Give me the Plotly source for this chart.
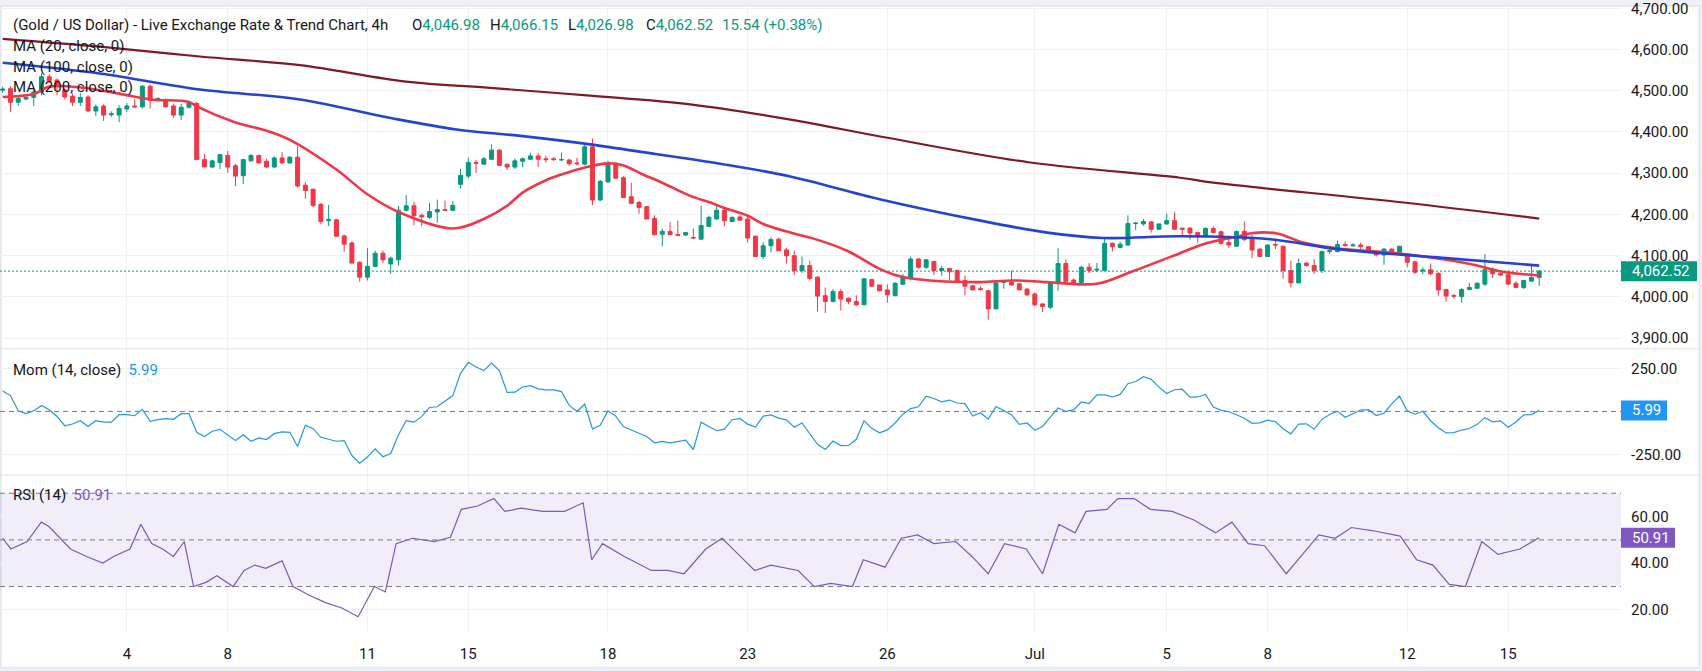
import plotly.graph_objects as go

# ---------------- data ----------------
open_ = [4501, 4505, 4472, 4480, 4484, 4497, 4534, 4526, 4502, 4487, 4472, 4485, 4451, 4463, 4442, 4441, 4456, 4463, 4461, 4511,
         4476, 4479, 4463, 4441, 4460, 4469, 4333, 4315, 4326, 4343, 4318, 4294, 4330, 4343, 4329, 4315, 4337, 4325, 4339, 4271,
         4261, 4224, 4185, 4187, 4148, 4131, 4084, 4048, 4074, 4106, 4080, 4090, 4210, 4221, 4198, 4193, 4206, 4212, 4210, 4273,
         4293, 4326, 4322, 4334, 4356, 4322, 4315, 4329, 4334, 4342, 4335, 4335, 4332, 4332, 4325, 4322, 4364, 4235, 4279, 4324,
         4289, 4243, 4229, 4219, 4190, 4152, 4159, 4151, 4150, 4144, 4140, 4171, 4189, 4210, 4183, 4194, 4189, 4147, 4098, 4124,
         4140, 4114, 4100, 4064, 4076, 4048, 4003, 3989, 4013, 3997, 3989, 3981, 4042, 4029, 4017, 4003, 4031, 4045, 4092, 4072,
         4086, 4064, 4069, 4064, 4040, 4027, 4020, 4015, 3971, 4035, 4035, 4032, 4019, 4007, 3983, 3975, 4034, 4081, 4041, 4035,
         4072, 4065, 4064, 4130, 4120, 4126, 4178, 4177, 4182, 4164, 4177, 4185, 4167, 4167, 4156, 4147, 4166, 4158, 4132, 4123,
         4159, 4140, 4116, 4098, 4127, 4123, 4064, 4034, 4082, 4076, 4064, 4110, 4110, 4127, 4124, 4126, 4122, 4110, 4102, 4116,
         4108, 4104, 4085, 4063, 4066, 4057, 4018, 4003, 4001, 4018, 4021, 4031, 4066, 4057, 4054, 4033, 4023, 4038, 4046.98]
high = [4510, 4511, 4485, 4486, 4503, 4542, 4540, 4530, 4506, 4493, 4494, 4489, 4467, 4467, 4450, 4465, 4470, 4480, 4514, 4515,
        4484, 4481, 4469, 4469, 4474, 4473, 4347, 4333, 4347, 4354, 4323, 4335, 4347, 4345, 4335, 4341, 4351, 4341, 4365, 4278,
        4263, 4228, 4223, 4189, 4151, 4134, 4086, 4119, 4112, 4112, 4098, 4221, 4247, 4231, 4202, 4228, 4236, 4234, 4233, 4311,
        4338, 4332, 4339, 4370, 4358, 4322, 4336, 4338, 4350, 4350, 4342, 4339, 4350, 4335, 4337, 4370, 4384, 4284, 4330, 4326,
        4293, 4277, 4233, 4221, 4198, 4165, 4181, 4185, 4158, 4166, 4221, 4197, 4221, 4214, 4195, 4198, 4198, 4149, 4133, 4145,
        4144, 4119, 4112, 4098, 4088, 4050, 4023, 4019, 4019, 3999, 4004, 4045, 4044, 4029, 4030, 4036, 4056, 4098, 4094, 4092,
        4088, 4075, 4069, 4066, 4052, 4029, 4026, 4017, 4037, 4041, 4064, 4034, 4021, 4011, 3985, 4037, 4118, 4091, 4045, 4076,
        4082, 4082, 4142, 4132, 4134, 4198, 4182, 4189, 4184, 4178, 4202, 4205, 4167, 4169, 4158, 4169, 4171, 4161, 4140, 4161,
        4183, 4150, 4118, 4127, 4136, 4123, 4088, 4093, 4084, 4092, 4112, 4120, 4137, 4135, 4130, 4132, 4122, 4112, 4118, 4118,
        4123, 4106, 4088, 4072, 4081, 4060, 4020, 4007, 4022, 4034, 4036, 4104, 4072, 4059, 4064, 4038, 4041, 4076, 4066.15]
low = [4495, 4449, 4463, 4477, 4463, 4489, 4518, 4489, 4479, 4463, 4463, 4449, 4439, 4427, 4437, 4424, 4449, 4460, 4457, 4457,
       4474, 4459, 4434, 4429, 4457, 4333, 4315, 4313, 4310, 4301, 4269, 4274, 4328, 4323, 4313, 4313, 4323, 4323, 4265, 4238,
       4218, 4176, 4172, 4147, 4110, 4082, 4037, 4040, 4072, 4082, 4056, 4076, 4207, 4174, 4171, 4189, 4180, 4210, 4208, 4263,
       4287, 4301, 4320, 4332, 4319, 4308, 4310, 4315, 4332, 4315, 4326, 4330, 4331, 4318, 4319, 4319, 4223, 4233, 4277, 4286,
       4241, 4225, 4202, 4189, 4149, 4123, 4155, 4147, 4148, 4140, 4139, 4171, 4188, 4171, 4181, 4186, 4132, 4098, 4092, 4108,
       4112, 4081, 4053, 4058, 4040, 3965, 3961, 3987, 3967, 3982, 3978, 3981, 4024, 4014, 3986, 4002, 4029, 4040, 4068, 4068,
       4053, 4052, 4040, 4034, 4004, 4017, 4015, 3945, 3971, 4020, 4027, 4017, 4003, 3977, 3963, 3971, 4015, 4036, 4034, 4034,
       4058, 4061, 4064, 4110, 4119, 4124, 4162, 4173, 4156, 4164, 4175, 4164, 4148, 4139, 4132, 4145, 4156, 4126, 4119, 4122,
       4136, 4094, 4096, 4098, 4116, 4044, 4023, 4034, 4074, 4056, 4058, 4104, 4108, 4122, 4122, 4116, 4106, 4098, 4078, 4104,
       4108, 4072, 4056, 4055, 4053, 4003, 3989, 3996, 3986, 4018, 4019, 4027, 4046, 4051, 4031, 4021, 4019, 4038, 4026.98]
close = [4504, 4472, 4481, 4484, 4497, 4534, 4524, 4514, 4485, 4472, 4484, 4451, 4461, 4441, 4444, 4457, 4463, 4461, 4511, 4477,
         4481, 4461, 4441, 4460, 4471, 4333, 4315, 4330, 4345, 4315, 4293, 4333, 4343, 4325, 4315, 4337, 4325, 4339, 4269, 4258,
         4222, 4183, 4188, 4147, 4128, 4082, 4048, 4074, 4106, 4090, 4094, 4210, 4221, 4197, 4194, 4207, 4212, 4210, 4222, 4295,
         4326, 4324, 4335, 4356, 4319, 4315, 4330, 4335, 4342, 4334, 4333, 4333, 4333, 4323, 4323, 4364, 4235, 4280, 4322, 4288,
         4241, 4227, 4217, 4189, 4151, 4159, 4151, 4149, 4156, 4143, 4173, 4193, 4210, 4185, 4193, 4186, 4143, 4098, 4124, 4139,
         4112, 4100, 4064, 4076, 4045, 4002, 3989, 4013, 3995, 3989, 3981, 4044, 4026, 4015, 4005, 4033, 4048, 4092, 4072, 4090,
         4064, 4069, 4061, 4038, 4026, 4017, 4018, 3971, 4034, 4038, 4029, 4017, 4005, 3981, 3977, 4036, 4081, 4038, 4035, 4072,
         4064, 4067, 4130, 4122, 4128, 4178, 4179, 4183, 4164, 4177, 4185, 4164, 4164, 4155, 4148, 4166, 4156, 4130, 4126, 4159,
         4139, 4114, 4098, 4126, 4126, 4064, 4034, 4081, 4076, 4064, 4110, 4112, 4127, 4125, 4126, 4122, 4108, 4102, 4116, 4108,
         4123, 4084, 4060, 4065, 4056, 4017, 4002, 4002, 4018, 4023, 4033, 4066, 4056, 4053, 4031, 4023, 4040, 4046.98, 4062.52]
bars = list(range(len(close)))

ma20_bar = [0, 4, 6, 10, 15, 19, 24, 25, 30, 34, 37, 43, 47, 51, 58, 62, 65, 67, 70, 72, 75, 78, 80, 82.5, 85, 88.6,
            91.2, 92.8, 95.9, 98, 101.5, 104.4, 108.8, 113, 115.6, 119.5, 125.9, 130.2, 134.6, 141, 145.3, 151.7, 154.7,
            159, 161.1, 164.2, 167.6, 171.9, 180.5, 189.1, 193.3, 198]
ma20_val = [4485, 4492, 4510, 4508, 4493, 4479, 4473, 4462, 4423, 4403, 4381, 4309, 4249, 4206, 4166, 4189, 4221, 4253,
            4283, 4297, 4314, 4324, 4319, 4297, 4277, 4245, 4229, 4217, 4198, 4177, 4156, 4142, 4112, 4068, 4050, 4040,
            4036, 4040, 4036, 4032, 4060, 4106, 4128, 4146, 4155, 4154, 4132, 4118, 4104, 4080, 4061, 4052]
ma100_bar = [0, 12.5, 25.4, 38.3, 50, 58.5, 67, 75.7, 84.3, 92.8, 101.5, 113, 126, 134.6, 141.8, 151.7, 163.3, 172,
             184.8, 198]
ma100_val = [4568, 4542, 4503, 4479, 4434, 4406, 4390, 4370, 4346, 4322, 4292, 4237, 4185, 4156, 4143, 4147, 4140, 4116,
             4096, 4076]
ma200_bar = [0, 12.5, 25.4, 38.3, 52, 62.8, 75.7, 88.6, 101.5, 114, 132.4, 151.7, 156, 180.5, 198]
ma200_val = [4626, 4607, 4583, 4562, 4522, 4507, 4488, 4467, 4430, 4386, 4326, 4289, 4277, 4229, 4190]

mom = [119, 92, 4, -12, 4, 35, 10, -29, -83, -73, -54, -87, -54, -62, -62, -19, -19, -25, 12, -58,
       -48, -42, -46, -13, -13, -121, -146, -115, -104, -135, -169, -135, -173, -154, -163, -129, -119, -121, -204, -81,
       -100, -150, -163, -173, -169, -256, -300, -265, -217, -263, -244, -135, -54, -62, -29, 23, 27, 58, 92, 221,
       285, 258, 237, 281, 237, 110, 112, 142, 150, 131, 125, 125, 115, 35, 0, 42, -102, -81, 3, -27,
       -89, -108, -125, -145, -182, -174, -183, -174, -167, -221, -62, -87, -112, -103, -48, -41, -74, -91, -27, -20,
       -39, -49, -92, -67, -128, -191, -221, -172, -198, -197, -162, -54, -98, -124, -107, -67, -16, 16, 27, 88,
       75, 56, 66, 49, 45, -27, -8, -44, 29, 5, -19, -75, -67, -109, -87, -33, 20, 0, 9, 55,
       46, 96, 96, 84, 99, 161, 174, 202, 187, 141, 104, 126, 129, 83, 84, 99, 26, 8, -2, -19,
       -40, -69, -66, -51, -59, -100, -130, -74, -72, -102, -46, -18, 1, -34, -13, 8, 10, -24, -10, 44,
       89, 3, -16, 1, -54, -95, -125, -123, -108, -99, -75, -36, -60, -55, -92, -61, -20, -18, 5.99]

rsi_bar = [0, 1.05, 3.15, 4.97, 5.95, 7.34, 8.74, 10.8, 12.9, 14.3, 16.4, 17.8, 19.2, 20.6, 22.0, 23.4, 24.6, 26.2,
           27.6, 29.7, 31.1, 32.5, 33.9, 36.0, 37.4, 39.5, 41.6, 43.7, 45.8, 47.9, 49.3, 50.7, 52.8, 55.6, 57.7, 59.1,
           61.2, 63.3, 64.7, 66.8, 69.6, 72.4, 74.8, 75.9, 77.3, 80.1, 83.6, 85.7, 87.8, 90.6, 92.7, 94.8, 96.9, 99.0,
           102.5, 104.6, 106.7, 109.5, 110.9, 113.7, 115.8, 117.9, 120.0, 122.8, 124.9, 127.0, 129.1, 131.9, 134.0,
           136.1, 138.2, 139.6, 142.3, 143.7, 145.8, 147.9, 150.7, 153.5, 156.3, 158.4, 160.5, 162.6, 165.4, 167.5,
           169.6, 171.7, 173.8, 176.6, 180.1, 182.2, 184.3, 186.4, 188.5, 190.6, 192.7, 195.5, 198]
rsi_val = [50.7, 46.1, 49.3, 57.6, 55.7, 50.7, 46.1, 42.9, 40.1, 42.9, 46.1, 56.7, 48.4, 46.1, 42.9, 49.3, 30.0, 31.8,
           34.6, 30.0, 36.9, 39.2, 37.8, 41.0, 30.0, 26.3, 23.1, 20.8, 17.1, 30.0, 27.7, 48.4, 50.7, 49.3, 51.1, 63.1,
           64.5, 67.7, 62.2, 63.6, 62.2, 62.2, 65.9, 41.5, 48.4, 42.9, 36.9, 36.9, 35.5, 46.1, 50.7, 43.8, 36.9, 39.2,
           36.9, 30.0, 31.4, 30.0, 41.5, 38.3, 50.7, 52.1, 48.4, 49.3, 42.9, 35.5, 48.4, 46.1, 35.5,
           56.7, 53.0, 62.2, 63.1, 67.7, 67.7, 63.1, 62.2, 58.5, 53.0, 57.6, 48.4, 47.5, 35.5, 43.8,
           52.1, 50.7, 55.3, 53.9, 51.6, 41.5, 39.2, 30.9, 30.0, 49.3, 43.8, 46.1, 50.91]

date_ticks = [16, 29, 47, 60, 78, 96, 114, 133, 150, 163, 181, 194]
date_labels = ["4", "8", "11", "15", "18", "23", "26", "Jul", "5", "8", "12", "15"]
price_ticks = [3900, 4000, 4100, 4200, 4300, 4400, 4500, 4600, 4700]
price_labels = ["3,900.00", "4,000.00", "4,100.00", "4,200.00", "4,300.00", "4,400.00", "4,500.00", "4,600.00", "4,700.00"]
mom_ticks = [-250, 250]
mom_labels = ["-250.00", "250.00"]
rsi_ticks = [20, 40, 60]
rsi_labels = ["20.00", "40.00", "60.00"]
rsi_levels = [70, 50, 30]

title_text = "(Gold / US Dollar) - Live Exchange Rate &amp; Trend Chart, 4h"
ohlc_parts = [("O", "4,046.98"), ("H", "4,066.15"), ("L", "4,026.98"), ("C", "4,062.52")]
change_text = "15.54 (+0.38%)"
ma_labels = ["MA (20, close, 0)", "MA (100, close, 0)", "MA (200, close, 0)"]

# ---------------- styling ----------------
W, H = 1702, 671
ML, MR, MT, MB = 0, 81, 0, 38
PW, PH = W - ML - MR, H - MT - MB
UP, DN = "#089981", "#f23645"
TXT = "#131722"
GRID = "#eff1f5"
SEP = "#e0e3eb"
FONT = "Roboto"


def fx(px):
    return (px - ML) / PW


def fy(py):
    return 1 - (py - MT) / PH


X_RANGE = [-0.348, 208.54]

fig = go.Figure()
fig.add_trace(go.Candlestick(
    x=bars, open=open_, high=high, low=low, close=close,
    increasing=dict(line=dict(color=UP, width=1), fillcolor=UP),
    decreasing=dict(line=dict(color=DN, width=1), fillcolor=DN),
    whiskerwidth=0, hoverinfo="skip", showlegend=False, xaxis="x", yaxis="y"))
fig.add_trace(go.Scatter(x=ma20_bar, y=ma20_val, mode="lines", line=dict(color="#f23645", width=2.6, shape="spline"),
                         hoverinfo="skip", showlegend=False, xaxis="x", yaxis="y"))
fig.add_trace(go.Scatter(x=ma100_bar, y=ma100_val, mode="lines", line=dict(color="#2443d6", width=2.6, shape="spline"),
                         hoverinfo="skip", showlegend=False, xaxis="x", yaxis="y"))
fig.add_trace(go.Scatter(x=ma200_bar, y=ma200_val, mode="lines", line=dict(color="#801922", width=2.2, shape="spline"),
                         hoverinfo="skip", showlegend=False, xaxis="x", yaxis="y"))
fig.add_trace(go.Scatter(x=bars, y=mom, mode="lines", line=dict(color="#2196f3", width=1.2),
                         hoverinfo="skip", showlegend=False, xaxis="x2", yaxis="y2"))
fig.add_trace(go.Scatter(x=rsi_bar, y=rsi_val, mode="lines", line=dict(color="#7e57c2", width=1.2),
                         hoverinfo="skip", showlegend=False, xaxis="x3", yaxis="y3"))

# pane boundaries (pixels)
P1 = (0, 347)
P2 = (347, 474)
P3 = (474, 633)

xcommon = dict(range=X_RANGE, tickvals=date_ticks, ticktext=date_labels, showgrid=True, gridcolor=GRID,
               gridwidth=1, zeroline=False, showline=False, ticks="", fixedrange=True)
ycommon = dict(side="right", showgrid=True, gridcolor=GRID, gridwidth=1, zeroline=False, showline=False,
               ticks="", tickfont=dict(family=FONT, size=15, color=TXT), ticklabelstandoff=9, fixedrange=True,
               ticklabeloverflow="allow")

fig.update_layout(
    width=W, height=H, margin=dict(l=ML, r=MR, t=MT, b=MB),
    paper_bgcolor="#eef0f5", plot_bgcolor="rgba(0,0,0,0)",
    boxgap=0.27,
    xaxis=dict(xcommon, anchor="y", showticklabels=False, rangeslider=dict(visible=False)),
    xaxis2=dict(xcommon, anchor="y2", matches="x", showticklabels=False),
    xaxis3=dict(xcommon, anchor="y3", matches="x", showticklabels=True,
                tickfont=dict(family=FONT, size=15, color=TXT), ticklabelstandoff=10),
    yaxis=dict(ycommon, domain=[fy(P1[1]), fy(P1[0])], range=[3874.2, 4710.4],
               tickvals=price_ticks, ticktext=price_labels),
    yaxis2=dict(ycommon, domain=[fy(P2[1]), fy(P2[0])], range=[-369, 363.5],
                tickvals=mom_ticks, ticktext=mom_labels),
    yaxis3=dict(ycommon, domain=[fy(P3[1]), fy(P3[0])], range=[10.1, 77.8],
                tickvals=rsi_ticks, ticktext=rsi_labels),
    showlegend=False,
)

shapes = []
# white chart card with light frame
shapes.append(dict(type="rect", xref="paper", yref="paper", x0=fx(1), x1=fx(1699), y0=fy(668), y1=fy(2),
                   fillcolor="white", line=dict(color="#d9dce3", width=1), layer="below"))
# pane separators
for yy in (P2[0], P3[0]):
    shapes.append(dict(type="line", xref="paper", yref="paper", x0=fx(1), x1=fx(1699), y0=fy(yy), y1=fy(yy),
                       line=dict(color=SEP, width=1)))
# RSI band
shapes.append(dict(type="rect", xref="paper", yref="y3", x0=0, x1=1, y0=rsi_levels[2], y1=rsi_levels[0],
                   fillcolor="rgba(126,87,194,0.1)", line=dict(width=0), layer="below"))
for lv in rsi_levels:
    shapes.append(dict(type="line", xref="paper", yref="y3", x0=0, x1=1, y0=lv, y1=lv,
                       line=dict(color="#787b86", width=1, dash="5px,4px")))
shapes.append(dict(type="line", xref="paper", yref="y2", x0=0, x1=1, y0=0, y1=0,
                   line=dict(color="#787b86", width=1, dash="5px,4px")))
# last price dotted line
shapes.append(dict(type="line", xref="paper", yref="y", x0=0, x1=1, y0=close[-1], y1=close[-1],
                   line=dict(color=UP, width=1, dash="2px,2px")))

annotations = []


def value_box(val, yref, color, width_px, text):
    shapes.append(dict(type="rect", xref="paper", yref=yref, xsizemode="pixel", xanchor=1, x0=0, x1=width_px,
                       ysizemode="pixel", yanchor=val, y0=-10, y1=10, fillcolor=color, line=dict(width=0)))
    annotations.append(dict(xref="paper", yref=yref, x=1, y=val, xanchor="left", yanchor="middle", xshift=9,
                            text=text, showarrow=False, font=dict(family=FONT, size=15, color="white")))


value_box(close[-1], "y", UP, 76, "{:,.2f}".format(close[-1]))
value_box(mom[-1], "y2", "#2196f3", 46, "{:.2f}".format(mom[-1]))
value_box(rsi_val[-1], "y3", "#7e57c2", 54, "{:.2f}".format(rsi_val[-1]))


def label(x, y, text, size=15, color=TXT):
    annotations.append(dict(xref="paper", yref="paper", x=fx(x), y=fy(y), xanchor="left", yanchor="middle",
                            text=text, showarrow=False, font=dict(family=FONT, size=size, color=color)))


label(11, 21.5, title_text)
ohlc_x = [410, 488, 566, 644]
for (k, v), xx in zip(ohlc_parts, ohlc_x):
    label(xx, 21.5, k + "<span style='color:%s'>%s</span>" % (UP, v))
label(720, 21.5, change_text, color=UP)
for i, t in enumerate(ma_labels):
    label(11, 42 + 21 * i, t)
label(11, 368, "Mom (14, close)\u00a0\u00a0<span style='color:#2196f3'>%.2f</span>" % mom[-1])
label(11, 494, "RSI (14)\u00a0\u00a0<span style='color:#7e57c2'>%.2f</span>" % rsi_val[-1])

fig.update_layout(shapes=shapes, annotations=annotations)
fig.write_html("out.html")
